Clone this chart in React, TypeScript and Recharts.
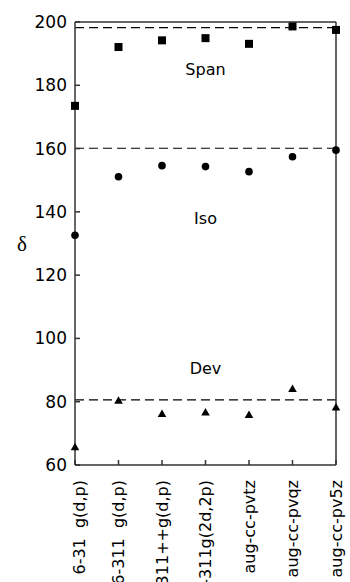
import React from 'react';
import { ComposedChart, Line, XAxis, YAxis, ReferenceLine, ReferenceDot } from 'recharts';

const categories = ['6-31  g(d,p)', '6-311  g(d,p)', '6-311++g(d,p)', '6-311g(2d,2p)', 'aug-cc-pvtz', 'aug-cc-pvqz', 'aug-cc-pv5z'];
const spanValues = [173.5, 192.1, 194.2, 194.9, 193.1, 198.6, 197.5];
const isoValues = [132.6, 151.1, 154.6, 154.3, 152.7, 157.4, 159.5];
const devValues = [65.6, 80.3, 76.1, 76.6, 75.8, 84.0, 78.2];
const yTicks = [60, 80, 100, 120, 140, 160, 180, 200];
const refLines = [198.2, 160.1, 80.6];
const annotations = [
  { text: 'Span', x: '6-311g(2d,2p)', y: 185.2 },
  { text: 'Iso', x: '6-311g(2d,2p)', y: 138.1 },
  { text: 'Dev', x: '6-311g(2d,2p)', y: 90.6 },
];

const data = categories.map((c, i) => ({ name: c, span: spanValues[i], iso: isoValues[i], dev: devValues[i] }));

const AXIS = '#333';
const SANS = 'DejaVu Sans';

const Square = (p: any) => {
  if (p.cx == null || p.cy == null) return null;
  return <rect key={p.index} x={p.cx - 4} y={p.cy - 4} width={8} height={8} fill="#000" />;
};
const Circle = (p: any) => {
  if (p.cx == null || p.cy == null) return null;
  return <circle key={p.index} cx={p.cx} cy={p.cy} r={3.8} fill="#000" />;
};
const Triangle = (p: any) => {
  if (p.cx == null || p.cy == null) return null;
  const { cx, cy } = p;
  return <polygon key={p.index} points={`${cx},${cy - 4.5} ${cx + 4.3},${cy + 3} ${cx - 4.3},${cy + 3}`} fill="#000" />;
};

const XTick = (props: any) => {
  const { x, y, payload, index } = props;
  const tx = index === 0 ? x + 4 : x;
  return (
    <text
      x={tx}
      y={y}
      transform={`rotate(-90, ${tx}, ${y})`}
      textAnchor="end"
      dominantBaseline="central"
      fontFamily={SANS}
      fontSize={16}
      fill="#000"
      style={{ whiteSpace: 'pre' }}
    >
      {payload.value}
    </text>
  );
};

export default function App() {
  return (
    <div style={{ position: 'absolute', left: 0, top: 0, background: '#fff' }}>
      <ComposedChart width={350} height={582} data={data} margin={{ top: 21, right: 7, bottom: 0, left: 0 }}>
        <XAxis
          dataKey="name"
          xAxisId="bottom"
          orientation="bottom"
          height={117}
          interval={0}
          stroke={AXIS}
          strokeWidth={1.5}
          tickSize={-5}
          tickMargin={20}
          tick={<XTick />}
        />
        <XAxis
          dataKey="name"
          xAxisId="top"
          orientation="top"
          height={1}
          interval={0}
          stroke={AXIS}
          strokeWidth={1.5}
          tickSize={-5}
          tick={false}
        />
        <YAxis
          yAxisId="left"
          type="number"
          domain={[60, 200]}
          ticks={yTicks}
          interval={0}
          width={75}
          stroke={AXIS}
          strokeWidth={1.5}
          tickSize={-5}
          tickMargin={13}
          tick={{ fontFamily: SANS, fontSize: 17, fill: '#000' }}
          label={{ value: 'δ', position: 'insideLeft', offset: 17, fontFamily: 'Liberation Serif', fontSize: 21, fill: '#000' }}
        />
        <YAxis
          yAxisId="right"
          orientation="right"
          type="number"
          domain={[60, 200]}
          ticks={yTicks}
          interval={0}
          width={7}
          stroke={AXIS}
          strokeWidth={1.5}
          tickSize={-5}
          tick={false}
        />
        {refLines.map((v) => (
          <ReferenceLine key={v} y={v} xAxisId="bottom" yAxisId="left" stroke="#000" strokeWidth={1.2} strokeDasharray="9 5" />
        ))}
        {annotations.map((a) => (
          <ReferenceDot
            key={a.text}
            x={a.x}
            y={a.y}
            xAxisId="bottom"
            yAxisId="left"
            r={0}
            fill="none"
            stroke="none"
            label={{ value: a.text, position: 'center', fontFamily: SANS, fontSize: 16, fill: '#000' }}
          />
        ))}
        <Line xAxisId="bottom" yAxisId="left" dataKey="span" stroke="none" dot={Square} activeDot={false} isAnimationActive={false} />
        <Line xAxisId="bottom" yAxisId="left" dataKey="iso" stroke="none" dot={Circle} activeDot={false} isAnimationActive={false} />
        <Line xAxisId="bottom" yAxisId="left" dataKey="dev" stroke="none" dot={Triangle} activeDot={false} isAnimationActive={false} />
      </ComposedChart>
    </div>
  );
}
